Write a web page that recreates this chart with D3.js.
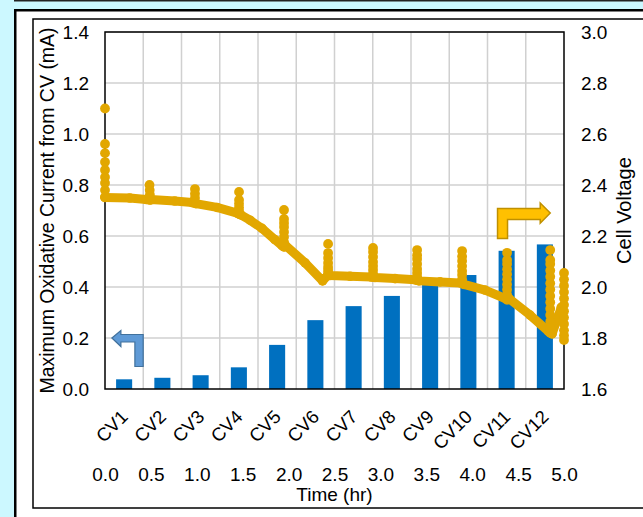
<!DOCTYPE html>
<html>
<head>
<meta charset="utf-8">
<script src="https://cdn.jsdelivr.net/npm/d3@7"></script>
<style>
  html, body { margin: 0; padding: 0; background: #ccf8ff; }
  svg { display: block; font-family: "Liberation Sans", Arial, sans-serif; }
</style>
</head>
<body>
<svg id="chart" width="643" height="517"></svg>
<script>
// ---- data ----
const categories = ["CV1", "CV2", "CV3", "CV4", "CV5", "CV6", "CV7", "CV8", "CV9", "CV10", "CV11", "CV12"];
const maxOxCurrent = [0.038, 0.044, 0.054, 0.085, 0.173, 0.270, 0.325, 0.365, 0.408, 0.447, 0.542, 0.567];

const currentTicks = [0.0, 0.2, 0.4, 0.6, 0.8, 1.0, 1.2, 1.4];
const voltageTicks = [1.6, 1.8, 2.0, 2.2, 2.4, 2.6, 2.8, 3.0];
const timeTicks = [0.0, 0.5, 1.0, 1.5, 2.0, 2.5, 3.0, 3.5, 4.0, 4.5, 5.0];

// discharge trace (continuous thick line)
const dischargeTime = [0.00, 0.27, 0.45, 0.49, 0.50, 0.76, 0.95, 0.98, 0.99, 1.22, 1.44, 1.46, 1.48, 1.58, 1.71, 1.85, 1.93, 1.95, 1.96, 2.18, 2.37, 2.43, 2.45, 2.67, 2.90, 2.92, 2.94, 3.16, 3.38, 3.40, 3.42, 3.65, 3.87, 3.89, 3.91, 4.14, 4.36, 4.38, 4.40, 4.63, 4.83, 4.85, 4.87, 4.97];
const dischargeVoltage = [2.351, 2.349, 2.343, 2.341, 2.343, 2.337, 2.331, 2.329, 2.327, 2.312, 2.290, 2.286, 2.283, 2.262, 2.230, 2.186, 2.162, 2.157, 2.165, 2.095, 2.024, 2.047, 2.045, 2.042, 2.039, 2.039, 2.037, 2.033, 2.028, 2.027, 2.024, 2.020, 2.016, 2.014, 2.010, 1.988, 1.955, 1.950, 1.955, 1.890, 1.826, 1.820, 1.816, 1.920];

// voltage readings taken during each CV scan (markers only)
const scanTime = [
  0.00, 0.00, 0.00, 0.00, 0.00, 0.00, 0.00, 0.00, 0.00,
  0.485, 0.487, 0.489,
  0.98, 0.98, 0.98,
  1.46, 1.46, 1.46, 1.46, 1.46,
  1.95, 1.95, 1.95, 1.95, 1.95, 1.95, 1.95,
  2.43, 2.43, 2.43, 2.43, 2.43, 2.43, 2.43,
  2.92, 2.92, 2.92, 2.92, 2.92, 2.92, 2.92,
  3.40, 3.40, 3.40, 3.40, 3.40, 3.40, 3.40,
  3.89, 3.89, 3.89, 3.89, 3.89, 3.89, 3.89,
  4.38, 4.38, 4.38, 4.38, 4.38, 4.38, 4.38, 4.38, 4.38,
  4.85, 4.85, 4.85, 4.85, 4.85, 4.85, 4.85, 4.85, 4.85, 4.85, 4.85, 4.85, 4.85,
  5.00, 5.00, 5.00, 5.00, 5.00, 5.00, 5.00, 5.00, 5.00, 5.00, 5.00, 5.00
];
const scanVoltage = [
  2.700, 2.561, 2.525, 2.490, 2.459, 2.431, 2.408, 2.380, 2.353,
  2.400, 2.380, 2.362,
  2.384, 2.366, 2.349,
  2.373, 2.341, 2.326, 2.312, 2.298,
  2.302, 2.267, 2.251, 2.235, 2.216, 2.196, 2.176,
  2.169, 2.133, 2.114, 2.094, 2.078, 2.067, 2.055,
  2.153, 2.137, 2.118, 2.098, 2.082, 2.067, 2.051,
  2.145, 2.125, 2.110, 2.090, 2.071, 2.055, 2.040,
  2.141, 2.120, 2.102, 2.082, 2.063, 2.047, 2.030,
  2.134, 2.106, 2.090, 2.070, 2.050, 2.030, 2.010, 1.990, 1.970,
  2.145, 2.106, 2.090, 2.065, 2.040, 2.015, 1.990, 1.965, 1.940, 1.915, 1.890, 1.865, 1.840,
  2.055, 2.030, 2.005, 1.980, 1.955, 1.930, 1.905, 1.880, 1.855, 1.830, 1.810, 1.792
];

// ---- layout ----
const W = 643, H = 517;
const plot = { left: 105, right: 564, top: 32, bottom: 389 };
const TICK_FONT = 19;
const barColor = "#0070c0";
const traceColor = "#e2a700";
const gridColor = "#d0d0d0";

const svg = d3.select("#chart");

// page frames
svg.append("rect").attr("x", 0).attr("y", 0).attr("width", W).attr("height", H).attr("fill", "#ccf8ff");
svg.append("line").attr("x1", 14).attr("x2", W).attr("y1", 0.75).attr("y2", 0.75)
  .attr("stroke", "#222").attr("stroke-width", 1.5);
svg.append("rect").attr("x", 15.25).attr("y", 10.25).attr("width", W).attr("height", H)
  .attr("fill", "#fff").attr("stroke", "#000").attr("stroke-width", 2.5);
svg.append("rect").attr("x", 33).attr("y", 19).attr("width", W).attr("height", 508 - 19)
  .attr("fill", "none").attr("stroke", "#000").attr("stroke-width", 1.5);

// ---- scales ----
const xBand = d3.scaleBand().domain(categories).range([plot.left, plot.right]).padding(0);
const xTime = d3.scaleLinear().domain([0, 5]).range([plot.left, plot.right]);
const yLeft = d3.scaleLinear().domain([0, 1.4]).range([plot.bottom, plot.top]);
const yRight = d3.scaleLinear().domain([1.6, 3.0]).range([plot.bottom, plot.top]);

// ---- gridlines ----
const grid = svg.append("g").attr("stroke", gridColor).attr("stroke-width", 1.5);
grid.selectAll("line.h").data(currentTicks.slice(1)).join("line")
  .attr("x1", plot.left).attr("x2", plot.right)
  .attr("y1", d => yLeft(d)).attr("y2", d => yLeft(d));
grid.selectAll("line.v").data(categories.slice(1)).join("line")
  .attr("x1", d => xBand(d)).attr("x2", d => xBand(d))
  .attr("y1", plot.top).attr("y2", plot.bottom);

// ---- bars ----
const barW = xBand.bandwidth() * 0.42;
svg.append("g").selectAll("rect").data(categories).join("rect")
  .attr("x", d => xBand(d) + xBand.bandwidth() / 2 - barW / 2)
  .attr("width", barW)
  .attr("y", (d, i) => yLeft(maxOxCurrent[i]))
  .attr("height", (d, i) => yLeft(0) - yLeft(maxOxCurrent[i]))
  .attr("fill", barColor);

// ---- plot frame ----
svg.append("rect").attr("x", plot.left).attr("y", plot.top)
  .attr("width", plot.right - plot.left).attr("height", plot.bottom - plot.top)
  .attr("fill", "none").attr("stroke", "#000").attr("stroke-width", 1.5);

// ---- cell voltage trace ----
const discharge = dischargeTime.map((t, i) => [t, dischargeVoltage[i]]);
const scans = scanTime.map((t, i) => [t, scanVoltage[i]]);
const trace = svg.append("g");
trace.append("path").datum(discharge)
  .attr("d", d3.line().x(d => xTime(d[0])).y(d => yRight(d[1])))
  .attr("fill", "none").attr("stroke", traceColor).attr("stroke-width", 9)
  .attr("stroke-linejoin", "round").attr("stroke-linecap", "round");
trace.selectAll("circle.d").data(discharge).join("circle")
  .attr("cx", d => xTime(d[0])).attr("cy", d => yRight(d[1])).attr("r", 4.8).attr("fill", traceColor);
trace.selectAll("circle.s").data(scans).join("circle")
  .attr("cx", d => xTime(d[0])).attr("cy", d => yRight(d[1])).attr("r", 4.9).attr("fill", traceColor);

// ---- axes ----
function styleAxis(g) {
  g.select(".domain").remove();
  g.selectAll(".tick line").remove();
  g.selectAll("text").attr("fill", "#000").attr("font-size", TICK_FONT)
    .attr("font-family", '"Liberation Sans", Arial, sans-serif');
}
svg.append("g").attr("transform", `translate(${plot.left},0)`)
  .call(d3.axisLeft(yLeft).tickValues(currentTicks).tickFormat(d3.format(".1f")).tickSize(0).tickPadding(16))
  .call(styleAxis);
svg.append("g").attr("transform", `translate(${plot.right},0)`)
  .call(d3.axisRight(yRight).tickValues(voltageTicks).tickFormat(d3.format(".1f")).tickSize(0).tickPadding(17))
  .call(styleAxis);

// category labels, slanted
const catAxis = svg.append("g").attr("transform", `translate(0,${plot.bottom})`)
  .call(d3.axisBottom(xBand).tickSize(0)).call(styleAxis);
catAxis.selectAll("text")
  .attr("font-size", 18.5)
  .attr("text-anchor", "end")
  .attr("dy", 0)
  .attr("y", 0)
  .attr("transform", "translate(5,29) rotate(-45)");

// time axis
const timeAxis = svg.append("g").attr("transform", `translate(0,467)`)
  .call(d3.axisBottom(xTime).tickValues(timeTicks).tickFormat(d3.format(".1f")).tickSize(0).tickPadding(0))
  .call(styleAxis);
timeAxis.selectAll("text").attr("dy", "0.71em").attr("y", 0);

// axis titles
svg.append("text").attr("x", (plot.left + plot.right) / 2).attr("y", 501)
  .attr("text-anchor", "middle").attr("font-size", 19).attr("fill", "#000").text("Time (hr)");
svg.append("text")
  .attr("transform", `translate(47.5,${(plot.top + plot.bottom) / 2}) rotate(-90)`)
  .attr("text-anchor", "middle").attr("dy", "0.35em").attr("font-size", 19.5).attr("fill", "#000")
  .text("Maximum Oxidative Current from CV (mA)");
svg.append("text")
  .attr("transform", `translate(624,${(plot.top + plot.bottom) / 2}) rotate(-90)`)
  .attr("text-anchor", "middle").attr("dy", "0.35em").attr("font-size", 20).attr("fill", "#000")
  .text("Cell Voltage");

// ---- axis pointer arrows ----
// blue bent arrow pointing at the current axis
const bt = [xTime(0.075), yLeft(0.2)];
const bluePts = [[0, 0], [9, -7.5], [9, -3.5], [31.3, -3.5], [31.3, 28.5], [23, 28.5], [23, 4], [9, 4], [9, 8.5]];
svg.append("path")
  .attr("d", "M" + bluePts.map(p => [bt[0] + p[0], bt[1] + p[1]].join(",")).join("L") + "Z")
  .attr("fill", "#5f9ad6").attr("stroke", "#41719c").attr("stroke-width", 1.2);

// gold bent arrow pointing at the voltage axis
const ot = [xTime(4.85), yRight(2.29)];
const goldPts = [[0, 0], [-10, 10.2], [-10, 6.5], [-42.7, 6.5], [-42.7, 25.5], [-52.7, 25.5], [-52.7, -4.5], [-10, -4.5], [-10, -10.1]];
svg.append("path")
  .attr("d", "M" + goldPts.map(p => [ot[0] + p[0], ot[1] + p[1]].join(",")).join("L") + "Z")
  .attr("fill", "#ffc000").attr("stroke", "#bf9000").attr("stroke-width", 1.5);
</script>
</body>
</html>
